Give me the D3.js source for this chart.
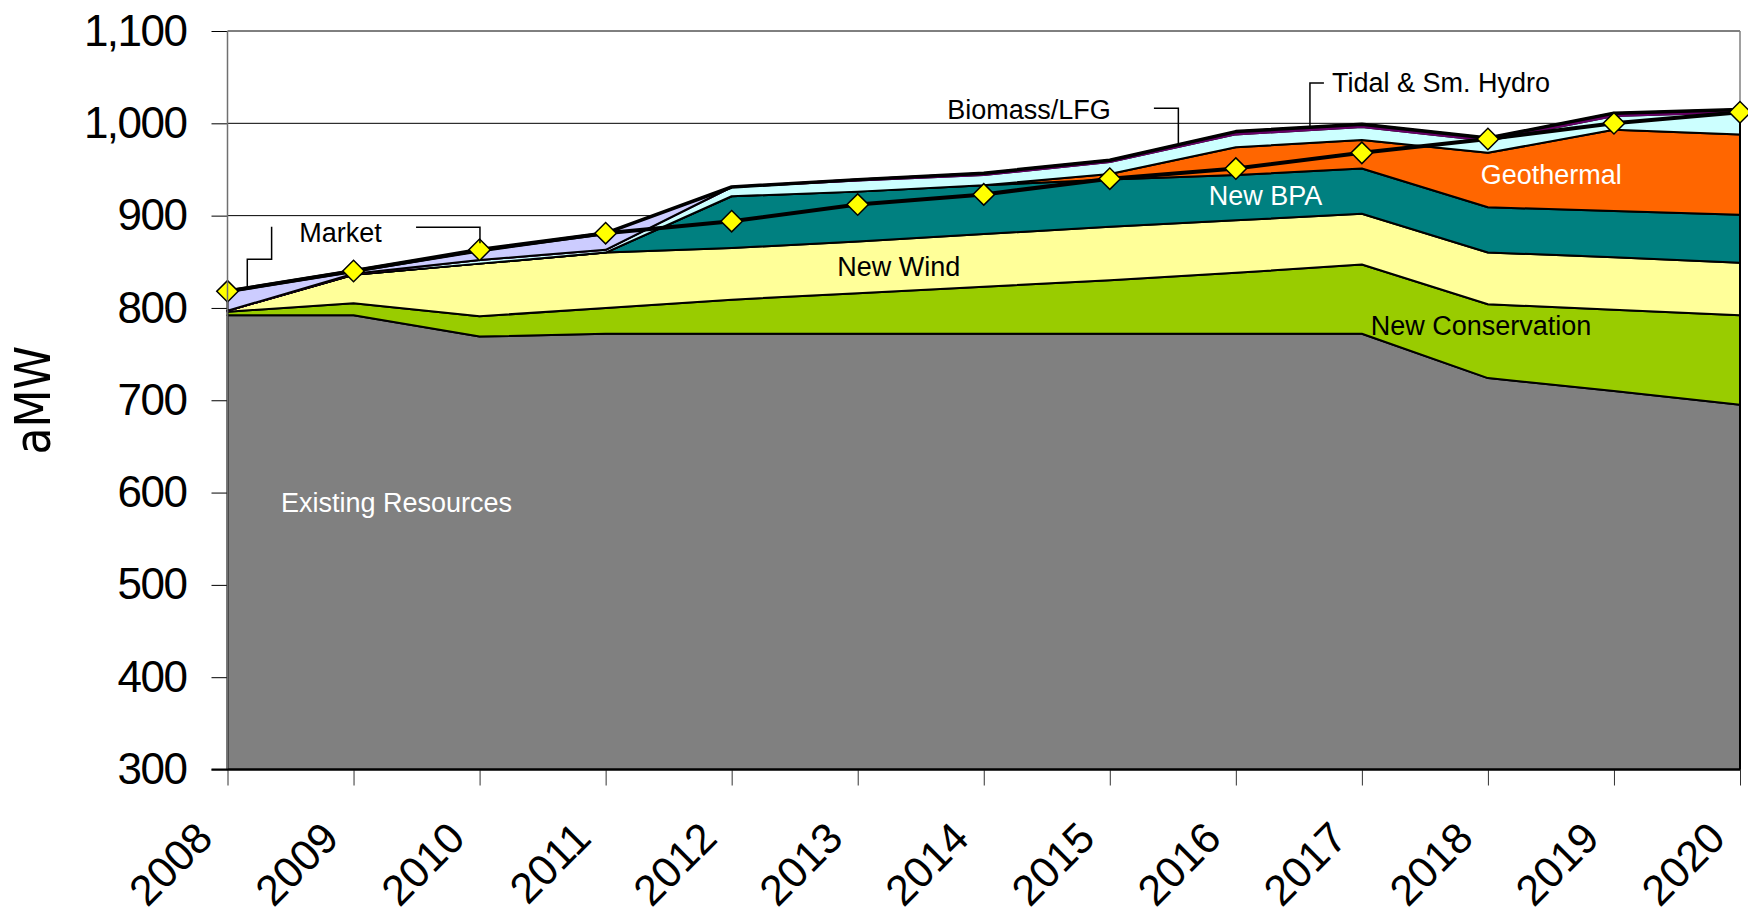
<!DOCTYPE html>
<html>
<head>
<meta charset="utf-8">
<script src="https://cdn.jsdelivr.net/npm/d3@7"></script>
<style>
  body { margin: 0; background: #fff; }
  svg { display: block; }
</style>
</head>
<body>
<div id="chart"></div>
<script>
// data (aMW)
var years        = [2008, 2009, 2010, 2011, 2012, 2013, 2014, 2015, 2016, 2017, 2018, 2019, 2020];
var existing     = [792, 792, 769, 772, 772, 772, 772, 772, 772, 772, 724, 710, 695];
var conservation = [4, 13, 22, 28, 37, 44, 51, 58, 66, 75, 80, 88, 97];
var wind         = [1, 31, 57, 60, 56, 56, 57, 58, 57, 55, 56, 57, 57];
var bpa          = [0, 0, 0, 0, 56, 54, 53, 51, 49, 49, 49, 50, 52];
var geothermal   = [0, 0, 0, 0, 0, 0, 0, 6, 30, 31, 59, 88, 87];
var biomass      = [0, 1, 4, 3, 10, 12, 11, 13, 14, 14, 13, 15, 24];
var tidal        = [0, 0, 0, 0, 0, 1, 2, 2, 3, 3, 3, 3, 3];
var market       = [21, 3, 10, 18, 0, 0, 0, 0, 0, 0, 0, 0, 0];
var load         = [818, 840, 863, 881, 894, 912, 923, 940, 951, 968, 983, 1000, 1012];
var yTicks       = [300, 400, 500, 600, 700, 800, 900, 1000, 1100];

var width = 1748, height = 923;
var plot = { left: 227.5, right: 1740, top: 31, bottom: 769.5 };
var labelFont = "'Liberation Sans', Arial, sans-serif";
var narrowFont = "'Liberation Sans Narrow', 'Arial Narrow', 'DejaVu Sans Condensed', sans-serif";

var svg = d3.select("#chart")
    .append("svg")
    .attr("width", width)
    .attr("height", height);

var x = d3.scalePoint().domain(years).range([plot.left, plot.right]);
// continuous year scale, only used to place the text labels / callouts
var xYear = d3.scaleLinear().domain([2008, 2020]).range([plot.left, plot.right]);
var y = d3.scaleLinear().domain([300, 1100]).range([plot.bottom, plot.top]);

// gridlines
svg.append("g").selectAll("line")
    .data(yTicks)
    .enter().append("line")
    .attr("x1", plot.left).attr("x2", plot.right)
    .attr("y1", function(d) { return y(d); })
    .attr("y2", function(d) { return y(d); })
    .attr("stroke", "#000")
    .attr("stroke-width", 1);

// right border of plot area
svg.append("line")
    .attr("x1", plot.right).attr("x2", plot.right)
    .attr("y1", plot.top).attr("y2", plot.bottom)
    .attr("stroke", "#808080")
    .attr("stroke-width", 1.5);

// stacked areas, bottom to top
var series = [
    { key: "Existing Resources", values: existing, color: "#808080", stroke: "#000" },
    { key: "New Conservation", values: conservation, color: "#99cc00", stroke: "#000" },
    { key: "New Wind", values: wind, color: "#ffff99", stroke: "#000" },
    { key: "New BPA", values: bpa, color: "#008080", stroke: "#000" },
    { key: "Geothermal", values: geothermal, color: "#ff6600", stroke: "#000" },
    { key: "Biomass/LFG", values: biomass, color: "#ccffff", stroke: "#000" },
    { key: "Tidal & Sm. Hydro", values: tidal, color: "#660066", stroke: "#660066" },
    { key: "Market", values: market, color: "#ccccff", stroke: "#000" }
];

var table = years.map(function(yr, i) {
    var row = { year: yr };
    series.forEach(function(s) { row[s.key] = s.values[i]; });
    return row;
});

var stacked = d3.stack().keys(series.map(function(s) { return s.key; }))(table);

var yMin = y.domain()[0];
var area = d3.area()
    .x(function(d) { return x(d.data.year); })
    .y0(function(d) { return y(Math.max(d[0], yMin)); })
    .y1(function(d) { return y(d[1]); });

svg.append("g").selectAll("path")
    .data(stacked)
    .enter().append("path")
    .attr("d", area)
    .attr("fill", function(d, i) { return series[i].color; })
    .attr("stroke", function(d, i) { return series[i].stroke; })
    .attr("stroke-width", 2)
    .attr("stroke-linejoin", "round");

// heavier outline on the top of the stack
var topLine = d3.line()
    .x(function(d) { return x(d.data.year); })
    .y(function(d) { return y(d[1]); });

svg.append("path")
    .datum(stacked[stacked.length - 1])
    .attr("d", topLine)
    .attr("fill", "none")
    .attr("stroke", "#000")
    .attr("stroke-width", 3.5)
    .attr("stroke-linejoin", "round");

// load line with diamond markers
var loadData = years.map(function(yr, i) { return { year: yr, value: load[i] }; });

svg.append("path")
    .datum(loadData)
    .attr("d", d3.line()
        .x(function(d) { return x(d.year); })
        .y(function(d) { return y(d.value); }))
    .attr("fill", "none")
    .attr("stroke", "#000")
    .attr("stroke-width", 4)
    .attr("stroke-linejoin", "round");

svg.append("g").selectAll("path")
    .data(loadData)
    .enter().append("path")
    .attr("d", d3.symbol().type(d3.symbolSquare).size(230))
    .attr("transform", function(d) { return "translate(" + x(d.year) + "," + y(d.value) + ") rotate(45)"; })
    .attr("fill", "#ffff00")
    .attr("stroke", "#000")
    .attr("stroke-width", 1.5);

// Y axis
var yAxis = svg.append("g")
    .attr("transform", "translate(" + plot.left + ",0)")
    .call(d3.axisLeft(y).tickValues(yTicks).tickSize(16).tickPadding(25).tickFormat(d3.format(",")));
yAxis.select(".domain").remove();
yAxis.selectAll("line").attr("stroke", "#000");
yAxis.selectAll("text")
    .attr("fill", "#000")
    .style("font-family", labelFont)
    .style("font-size", "44px")
    .style("letter-spacing", "-1.5px");

svg.append("line")
    .attr("x1", plot.left).attr("x2", plot.left)
    .attr("y1", plot.top).attr("y2", plot.bottom)
    .attr("stroke", "#707070")
    .attr("stroke-width", 1.5);

// X axis
var xAxis = svg.append("g")
    .attr("transform", "translate(0," + plot.bottom + ")")
    .call(d3.axisBottom(x).tickSize(16).tickPadding(0));
xAxis.select(".domain").remove();
xAxis.selectAll("line").attr("stroke", "#333");
xAxis.selectAll("text")
    .attr("y", 0)
    .attr("dy", 0)
    .attr("transform", "translate(-13,71) rotate(-45)")
    .style("text-anchor", "end")
    .attr("fill", "#000")
    .style("font-family", labelFont)
    .style("font-size", "43px");

svg.append("line")
    .attr("x1", plot.left - 16).attr("x2", plot.right)
    .attr("y1", plot.bottom).attr("y2", plot.bottom)
    .attr("stroke", "#000")
    .attr("stroke-width", 2);

// Y axis title
svg.append("text")
    .attr("transform", "translate(50," + (plot.top + plot.bottom) / 2 + ") rotate(-90)")
    .attr("text-anchor", "middle")
    .style("font-family", narrowFont)
    .style("font-size", "49px")
    .attr("fill", "#000")
    .text("aMW");

// series labels inside the chart
var labels = [
    { text: "Existing Resources", year: 2008.424, value: 579, color: "#fff" },
    { text: "New Conservation", year: 2017.07, value: 770.7, color: "#000" },
    { text: "New Wind", year: 2012.838, value: 834.6, color: "#000" },
    { text: "New BPA", year: 2015.785, value: 911.5, color: "#fff" },
    { text: "Geothermal", year: 2017.943, value: 934.3, color: "#fff" },
    { text: "Market", year: 2008.57, value: 871.8, color: "#000" },
    { text: "Biomass/LFG", year: 2013.711, value: 1004.4, color: "#000" },
    { text: "Tidal & Sm. Hydro", year: 2016.763, value: 1034.3, color: "#000" }
];

svg.append("g").selectAll("text")
    .data(labels)
    .enter().append("text")
    .attr("x", function(d) { return xYear(d.year); })
    .attr("y", function(d) { return y(d.value); })
    .attr("fill", function(d) { return d.color; })
    .style("font-family", labelFont)
    .style("font-size", "27px")
    .text(function(d) { return d.text; });

// callout lines (year, value) pairs
var callouts = [
    [[2008.35, 888], [2008.35, 852.7], [2008.157, 852.7], [2008.157, 823]],
    [[2009.496, 887.4], [2010.003, 887.4], [2010.003, 870]],
    [[2015.35, 1016.2], [2015.544, 1016.2], [2015.544, 978.4]],
    [[2016.699, 1043.8], [2016.588, 1043.8], [2016.588, 996.2]]
];

svg.append("g").selectAll("path")
    .data(callouts)
    .enter().append("path")
    .attr("d", d3.line()
        .x(function(d) { return xYear(d[0]); })
        .y(function(d) { return y(d[1]); }))
    .attr("fill", "none")
    .attr("stroke", "#000")
    .attr("stroke-width", 1.5);
</script>
</body>
</html>
